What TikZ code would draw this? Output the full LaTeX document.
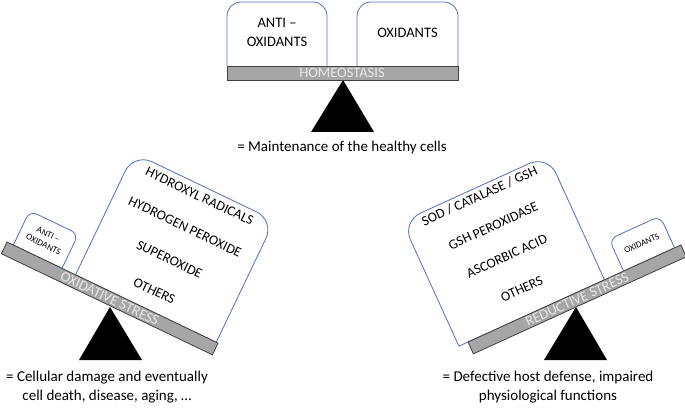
\documentclass[tikz,border=0pt]{standalone}
\usepackage{fontspec}
\setmainfont{Carlito}
\definecolor{boxblue}{RGB}{79,114,190}
\definecolor{beamgray}{RGB}{166,166,166}
\definecolor{beamedge}{RGB}{64,64,64}
\definecolor{beamtxt}{RGB}{232,232,232}
\begin{document}
\begin{tikzpicture}[x=1pt,y=1pt,
  box/.style={draw=boxblue, fill=white, line width=0.8pt},
  boxline/.style={draw=boxblue, line width=0.8pt},
  beam/.style={draw=beamedge, fill=beamgray, line width=0.8pt},
  beamtext/.style={text=beamtxt, font=\fontsize{14.5}{14.5}\selectfont, inner sep=0pt},
  pivot/.style={fill=black},
  toptext/.style={align=center, font=\fontsize{14.5}{19}\selectfont, inner sep=0pt},
  bigtext/.style={font=\fontsize{13.8}{16}\selectfont, inner sep=0pt},
  smalltext/.style={align=center, font=\fontsize{9}{11}\selectfont, inner sep=0pt},
  caption/.style={align=center, font=\fontsize{15}{19}\selectfont, inner sep=0pt}]
\useasboundingbox (0,0) rectangle (685,407);

% ---------- top: homeostasis ----------
\fill[pivot] (343,327) -- (374,275) -- (311,275) -- cycle;
\path[box, rounded corners=14pt] (227,341) -- (227,405) -- (327,405) -- (327,341);
\path[box, rounded corners=14pt] (357,341) -- (357,405) -- (458,405) -- (458,341);
\draw[beam] (227,327) rectangle (458,341);
\node[toptext] (anti) at (277,374.5) {ANTI –\\OXIDANTS};
\node[toptext] (oxi) at (407.5,374) {OXIDANTS};
\node[beamtext] (homeo) at (342,334) {HOMEOSTASIS};
\node[caption] (capTop) at (342,259) {= Maintenance of the healthy cells};

% ---------- left: oxidative stress ----------
\fill[pivot] (110,100) -- (142,47) -- (79,47) -- cycle;
\begin{scope}[shift={(7,165)}, rotate=-25.6, every node/.append style={transform shape}]
  \path[box, rounded corners=8pt] (7,0) -- (7,38) -- (61,38) -- (61,0);
  \draw[boxline] (7,0) -- (61,0);
  \path[box, rounded corners=20pt] (76,0) -- (76,135) -- (232,135) -- (232,0);
  \draw[boxline] (76,0) -- (232,0);
  \draw[beam] (0,-13) rectangle (234,0);
  \node[smalltext] (antiL) at (34,19) {ANTI –\\OXIDANTS};
  \node[bigtext] (hr) at (154,124.5) {HYDROXYL RADICALS};
  \node[bigtext] (hp) at (154,90.5) {HYDROGEN PEROXIDE};
  \node[bigtext] (so) at (154,54.5) {SUPEROXIDE};
  \node[bigtext] (otL) at (154,19.5) {OTHERS};
  \node[beamtext] (oxs) at (117,-6.5) {OXIDATIVE STRESS};
\end{scope}
\node[caption] (capL) at (107,19.5) {= Cellular damage and eventually\\cell death, disease, aging, …};

% ---------- right: reductive stress ----------
\fill[pivot] (576,100) -- (607,47) -- (544,47) -- cycle;
\begin{scope}[shift={(468,65)}, rotate=24.5, every node/.append style={transform shape}]
  \path[box, rounded corners=20pt] (-10,0) -- (-10,137) -- (150,137) -- (150,0);
  \draw[boxline] (-10,0) -- (150,0);
  \path[box, rounded corners=8pt] (171,0) -- (171,35) -- (227,35) -- (227,0);
  \draw[boxline] (171,0) -- (227,0);
  \draw[beam] (0,-13) rectangle (234,0);
  \node[smalltext] (oxiR) at (199,17.5) {OXIDANTS};
  \node[bigtext] (sod) at (71,128) {SOD / CATALASE / GSH};
  \node[bigtext] (gshp) at (71,95) {GSH PEROXIDASE};
  \node[bigtext] (asc) at (71,62) {ASCORBIC ACID};
  \node[bigtext] (otR) at (71,26) {OTHERS};
  \node[beamtext] (reds) at (117,-6.5) {REDUCTIVE STRESS};
\end{scope}
\node[caption] (capR) at (548,19.5) {= Defective host defense, impaired\\physiological functions};
\end{tikzpicture}
\end{document}
